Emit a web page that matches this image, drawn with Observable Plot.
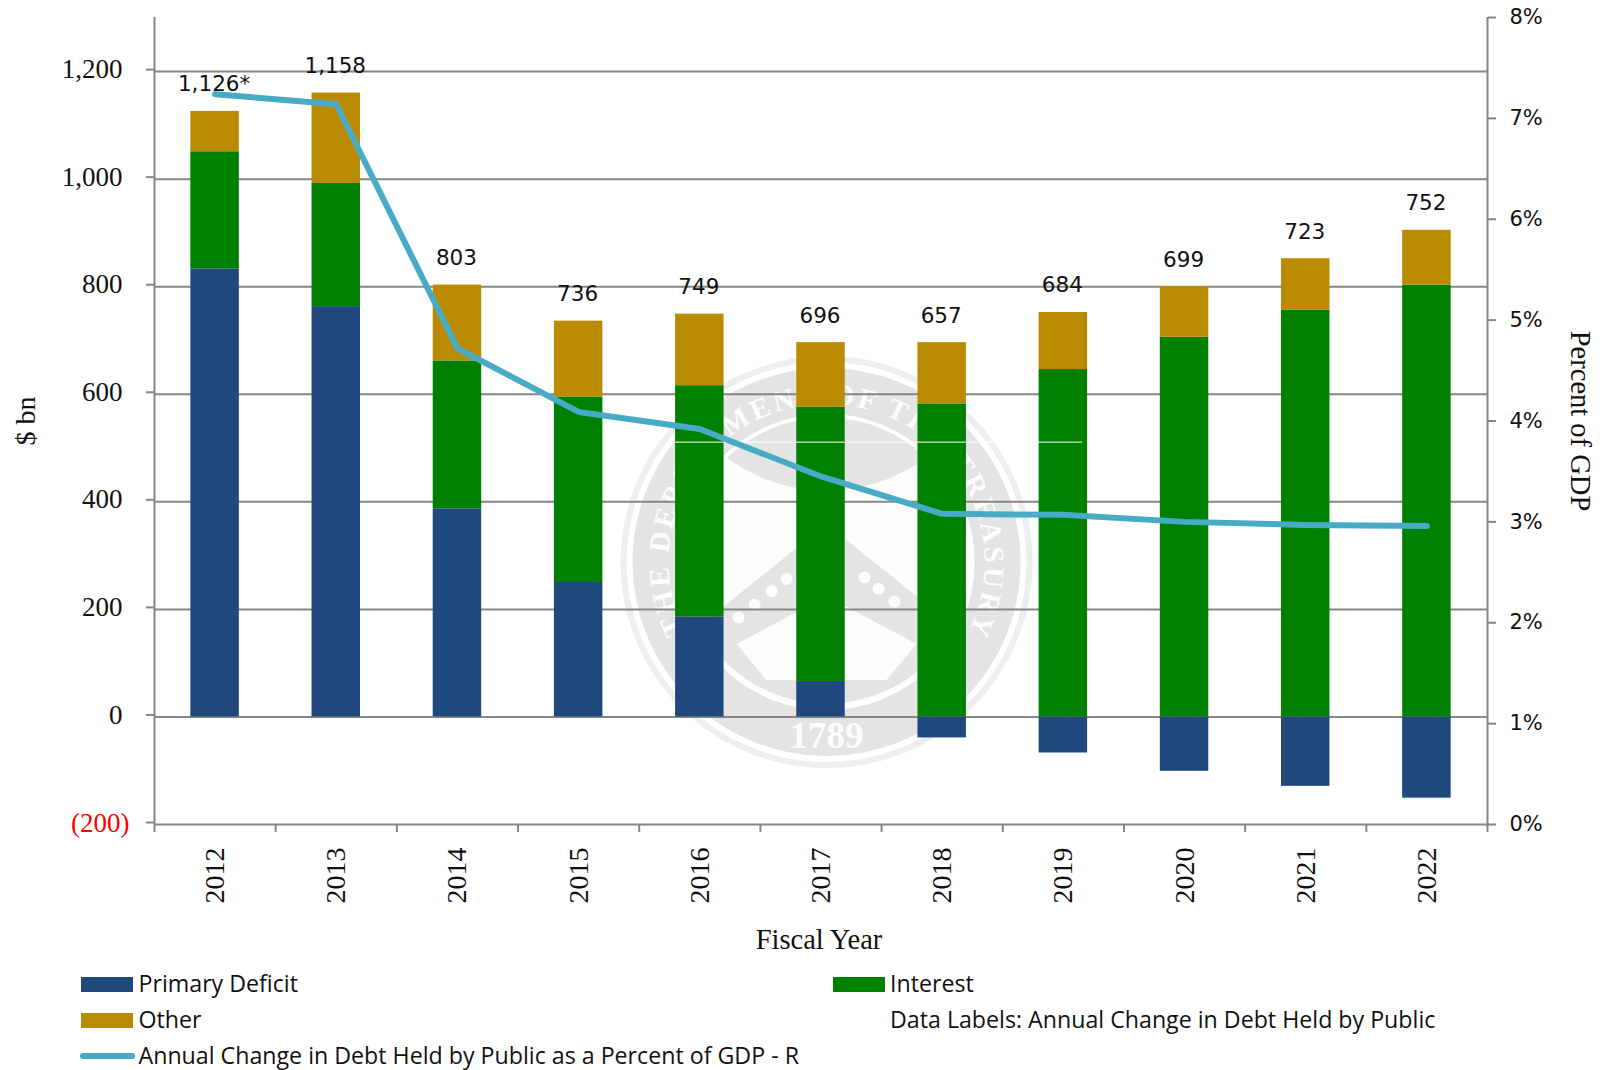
<!DOCTYPE html>
<html>
<head>
<meta charset="utf-8">
<script src="https://cdn.jsdelivr.net/npm/d3@7"></script>
<script src="https://cdn.jsdelivr.net/npm/@observablehq/plot@0.6"></script>
<style>
html,body{margin:0;padding:0;background:#fff;overflow:hidden}
#chart svg{display:block}
#legend{position:absolute;left:0;top:0;width:1604px;height:1070px;pointer-events:none;font-family:"Open Sans",sans-serif;font-size:23.2px;color:#111}
#legend .t{position:absolute;white-space:nowrap;transform:translateY(-50%)}
#legend .s{position:absolute}
</style>
</head>
<body>
<div id="chart"></div>
<div id="legend"></div>
<script>
const years = [2012,2013,2014,2015,2016,2017,2018,2019,2020,2021,2022];
const primaryDeficit = [833,763,387,250,186,66,-39,-67,-101,-129,-151];
const interest = [218,229,275,345,430,510,582,646,706,756,803];
const other = [75,168,141,141,133,120,114,106,94,96,102];
const dataLabels = ["1,126*","1,158","803","736","749","696","657","684","699","723","752"];
const pctOfGDP = [7.24,7.14,4.72,4.09,3.92,3.45,3.08,3.07,3.00,2.97,2.96];
const leftTicks = [-200,0,200,400,600,800,1000,1200];
const rightTicks = [0,1,2,3,4,5,6,7,8];
const colors = {primary:"#1f497d", interest:"#008000", other:"#ba8b00", line:"#48abc6", grid:"#868686"};
const yMin = -200, yMax = 1300.6;
const pctToY = p => yMin + p * (yMax - yMin) / 8;
const barHalf = 0.2;
const edges = [...years.map(y => y - 0.5), 2022.5];

const segs = [];
const tops = [];
years.forEach((yr,i) => {
  const p = primaryDeficit[i];
  const base = Math.max(p,0);
  segs.push({yr, y1:Math.min(p,0), y2:base, k:"primary"});
  segs.push({yr, y1:base, y2:base+interest[i], k:"interest"});
  segs.push({yr, y1:base+interest[i], y2:base+interest[i]+other[i], k:"other"});
  tops.push({yr, top:base+interest[i]+other[i], label:dataLabels[i]});
});
const lineData = years.map((yr,i)=>({yr, y:pctToY(pctOfGDP[i])}));

function seal(index, scales) {
  const NS = "http://www.w3.org/2000/svg";
  const cx = scales.x(2017.05), cy = scales.y(287);
  const g = document.createElementNS(NS,"g");
  const gray = "#e4e4e4", paper = "#fdfdfd";
  const add = (tag, attrs, text) => {
    const e = document.createElementNS(NS,tag);
    for (const k in attrs) e.setAttribute(k, attrs[k]);
    if (text) e.textContent = text;
    g.appendChild(e); return e;
  };
  add("circle",{cx,cy,r:203,fill:"none",stroke:"#eeeeee","stroke-width":6});
  add("circle",{cx,cy,r:171,fill:"none",stroke:gray,"stroke-width":46});
  add("circle",{cx,cy,r:146,fill:paper,stroke:"#fff","stroke-width":4});
  // lower crescent
  add("path",{d:`M ${cx-118} ${cy+80} L ${cx} ${cy+4} L ${cx+118} ${cy+80} A 144 144 0 0 1 ${cx-118} ${cy+80} Z`,fill:gray});
  add("path",{d:`M ${cx-90} ${cy+82} L ${cx} ${cy+34} L ${cx+90} ${cy+82} L ${cx+60} ${cy+118} L ${cx-60} ${cy+118} Z`,fill:paper});
  // upper crescent
  add("path",{d:`M ${cx-100} ${cy-104} A 144 144 0 0 1 ${cx+100} ${cy-104} Q ${cx+50} ${cy-70} ${cx} ${cy-72} Q ${cx-50} ${cy-70} ${cx-100} ${cy-104} Z`,fill:gray});
  // chevron with stars
  add("path",{d:`M ${cx-130} ${cy+66} L ${cx} ${cy-38} L ${cx+130} ${cy+66} L ${cx+112} ${cy+88} L ${cx} ${cy+2} L ${cx-112} ${cy+88} Z`,fill:gray});
  [-88,-72,-55,-40,38,52,68].forEach(dx=>{
    add("circle",{cx:cx+dx,cy:cy+0.8*Math.abs(dx)-15,r:6,fill:paper});
  });
  const defs = add("defs",{});
  const path = document.createElementNS(NS,"path");
  path.setAttribute("id","sealArc");
  const r = 158, a0 = 208*Math.PI/180, a1 = -28*Math.PI/180;
  path.setAttribute("d",`M ${cx+r*Math.cos(a0)} ${cy-r*Math.sin(a0)} A ${r} ${r} 0 1 1 ${cx+r*Math.cos(a1)} ${cy-r*Math.sin(a1)}`);
  defs.appendChild(path);
  const t = add("text",{fill:paper,"font-family":"Liberation Serif","font-weight":"bold","font-size":29});
  const tp = document.createElementNS(NS,"textPath");
  tp.setAttribute("href","#sealArc");
  tp.setAttribute("startOffset","50%");
  tp.setAttribute("text-anchor","middle");
  tp.setAttribute("textLength","640");
  tp.textContent = "THE DEPARTMENT OF THE TREASURY";
  t.appendChild(tp);
  add("text",{x:cx,y:cy+186,fill:paper,"text-anchor":"middle","font-family":"Liberation Serif","font-weight":"bold","font-size":37},"1789");
  return g;
}

const serif = "Liberation Serif";
const sans = "DejaVu Sans";

const chart = Plot.plot({
  width:1604, height:965,
  marginLeft:154, marginRight:117, marginTop:17, marginBottom:141,
  style:{background:"transparent", color:"#111"},
  x:{type:"linear", domain:[2011.5,2022.5]},
  y:{type:"linear", domain:[yMin,yMax]},
  marks:[
    seal,
    Plot.ruleY(leftTicks,{stroke:colors.grid,strokeWidth:2}),
    Plot.ruleX([2011.5,2022.5],{stroke:colors.grid,strokeWidth:2}),
    Plot.rect(segs,{x1:d=>d.yr-barHalf,x2:d=>d.yr+barHalf,y1:"y1",y2:"y2",fill:d=>colors[d.k]}),
    Plot.ruleY([511],{x1:years[4]-barHalf,x2:years[7]+0.16,stroke:"#fff",strokeWidth:1}),
    Plot.line(lineData,{x:"yr",y:"y",stroke:colors.line,strokeWidth:6,strokeLinejoin:"round",strokeLinecap:"round"}),
    Plot.text(tops,{x:"yr",y:"top",text:"label",dy:-27,dx:-1,fontFamily:sans,fontSize:21.5,fill:"#111"}),
    Plot.axisY({ticks:leftTicks,anchor:"left",label:null,tickSize:8,tickPadding:24,stroke:colors.grid,strokeWidth:2,fill:"#111",
      tickFormat:d=>d<0?"":d3.format(",")(d),fontFamily:serif,fontSize:27,dy:-2}),
    Plot.axisY({ticks:[-200],anchor:"left",label:null,tickSize:0,tickPadding:25,stroke:"none",fill:"#f00",
      tickFormat:d=>`(${-d})`,fontFamily:serif,fontSize:27,dy:-1}),
    Plot.axisY({ticks:rightTicks.map(pctToY),anchor:"right",label:null,tickSize:8,tickPadding:14,stroke:colors.grid,strokeWidth:2,fill:"#111",
      tickFormat:d=>Math.round((d-yMin)*8/(yMax-yMin))+"%",fontFamily:sans,fontSize:21}),
    Plot.axisX({ticks:edges,anchor:"bottom",label:null,tickSize:8,stroke:colors.grid,strokeWidth:2,tickFormat:()=>""}),
    Plot.axisX({ticks:years,anchor:"bottom",label:null,tickSize:0,tickPadding:23,tickRotate:-90,fill:"#111",stroke:"none",
      tickFormat:d=>String(d),fontFamily:serif,fontSize:28}),
    Plot.text(["Fiscal Year"],{x:[2017],y:[yMin],dy:115,dx:-2,text:d=>d,fontFamily:serif,fontSize:28.5,fill:"#111"}),
    Plot.text(["$ bn"],{frameAnchor:"left",textAnchor:"middle",dx:-128,rotate:-90,text:d=>d,fontFamily:serif,fontSize:28,fill:"#111"}),
    Plot.text(["Percent of GDP"],{frameAnchor:"right",textAnchor:"middle",dx:93,rotate:90,text:d=>d,fontFamily:serif,fontSize:28.5,fill:"#111"})
  ]
});
document.getElementById("chart").appendChild(chart);

const lg = document.getElementById("legend");
function swatch(x,y,color,h,r,w){
  const s=document.createElement("div");s.className="s";
  s.style.cssText=`left:${x}px;top:${y-h/2}px;width:${w||52}px;height:${h}px;background:${color};border-radius:${r||0}px`;
  lg.appendChild(s);
}
function label(x,y,txt){
  const t=document.createElement("div");t.className="t";t.textContent=txt;
  t.style.left=x+"px";t.style.top=y+"px";lg.appendChild(t);
}
swatch(81,984,colors.primary,15);label(138.5,983,"Primary Deficit");
swatch(81,1020,colors.other,15);label(138.5,1019,"Other");
swatch(80,1056,colors.line,5.5,3,55);label(138.5,1055,"Annual Change in Debt Held by Public as a Percent of GDP - R");
swatch(833,984,colors.interest,15);label(890,983,"Interest");
label(890,1019,"Data Labels: Annual Change in Debt Held by Public");
</script>
</body>
</html>
